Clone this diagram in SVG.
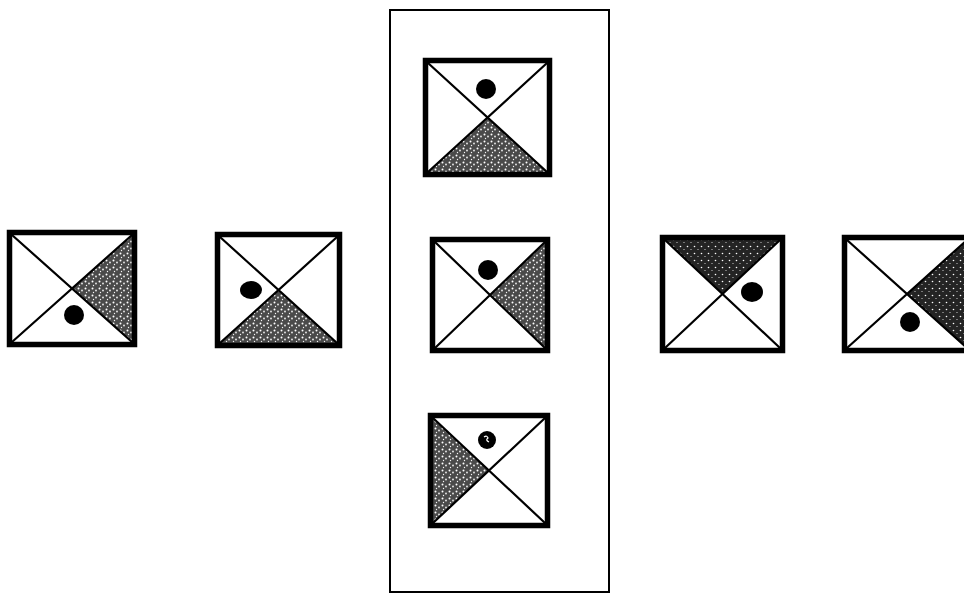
<svg xmlns="http://www.w3.org/2000/svg" width="964" height="594" viewBox="0 0 964 594">
  <defs>
    <pattern id="stip" width="7" height="7" patternUnits="userSpaceOnUse">
      <rect width="7" height="7" fill="#4a4a4a"/>
      <circle cx="1.5" cy="1.5" r="1" fill="#fff"/>
      <circle cx="5" cy="3.5" r="0.9" fill="#eee"/>
      <circle cx="2.5" cy="5.5" r="0.7" fill="#f4f4f4"/>
    </pattern>
    <pattern id="stipd" width="7" height="7" patternUnits="userSpaceOnUse">
      <rect width="7" height="7" fill="#242424"/>
      <circle cx="1.5" cy="1.5" r="0.8" fill="#fff"/>
      <circle cx="5" cy="4.5" r="0.6" fill="#ddd"/>
    </pattern>
  </defs>
  <style>
    .frame{fill:none;stroke:#000;stroke-width:5.5}
    .diag{stroke:#000;stroke-width:2.2;fill:none}
    .sh{fill:url(#stip)}
    .shd{fill:url(#stipd)}
    .dot{fill:#000}
    .outer{fill:none;stroke:#000;stroke-width:2}
  </style>
  <rect width="964" height="594" fill="#fff"/>

  <g id="panel">
    <rect class="outer" x="390" y="10" width="219" height="582"/>
  </g>

  <g id="box1">
    <polygon class="sh" points="132,235 132,342 72,288.5"/>
    <path class="diag" d="M12,235 L132,342 M132,235 L12,342"/>
    <rect class="frame" x="9.5" y="232.5" width="125" height="112"/>
    <circle class="dot" cx="74" cy="315" r="10"/>
  </g>

  <g id="box2">
    <polygon class="sh" points="220,343 337,343 278.5,290"/>
    <path class="diag" d="M220,237 L337,343 M337,237 L220,343"/>
    <rect class="frame" x="217.5" y="234.5" width="122" height="111"/>
    <ellipse class="dot" cx="251" cy="290" rx="11" ry="9"/>
  </g>

  <g id="box3">
    <polygon class="sh" points="428,172 547,172 487.5,117.5"/>
    <path class="diag" d="M428,63 L547,172 M547,63 L428,172"/>
    <rect class="frame" x="425.5" y="60.5" width="124" height="114"/>
    <circle class="dot" cx="486" cy="89" r="10"/>
  </g>

  <g id="box4">
    <polygon class="sh" points="545,242 545,348 490,295"/>
    <path class="diag" d="M435,242 L545,348 M545,242 L435,348"/>
    <rect class="frame" x="432.5" y="239.5" width="115" height="111"/>
    <circle class="dot" cx="488" cy="270" r="10"/>
  </g>

  <g id="box5">
    <polygon class="sh" points="433,418 433,523 489,470.5"/>
    <path class="diag" d="M433,418 L545,523 M545,418 L433,523"/>
    <rect class="frame" x="430.5" y="415.5" width="117" height="110"/>
    <circle class="dot" cx="487" cy="440" r="9"/>
    <path d="M484,437 q3,-2 4,1 q-3,2 1,4" stroke="#fff" stroke-width="1.2" fill="none"/>
  </g>

  <g id="box6">
    <polygon class="shd" points="665,240 780,240 722.5,294"/>
    <path class="diag" d="M665,240 L780,348 M780,240 L665,348"/>
    <rect class="frame" x="662.5" y="237.5" width="120" height="113"/>
    <ellipse class="dot" cx="752" cy="292" rx="11" ry="10"/>
  </g>

  <g id="box7">
    <polygon class="shd" points="967,240 967,348 907,294"/>
    <path class="diag" d="M847,240 L967,348 M967,240 L847,348"/>
    <rect class="frame" x="844.5" y="237.5" width="125" height="113"/>
    <circle class="dot" cx="910" cy="322" r="10"/>
  </g>
</svg>
